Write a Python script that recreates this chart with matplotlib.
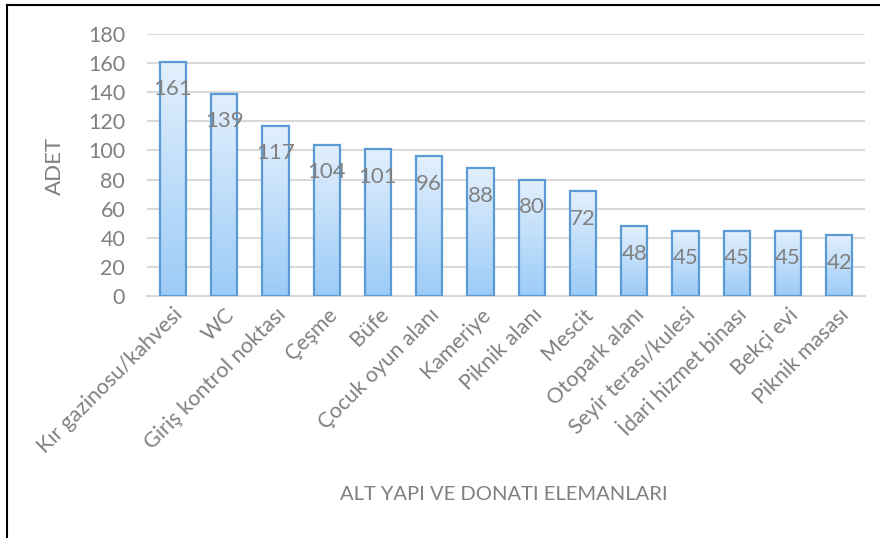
import matplotlib
matplotlib.use("Agg")
import matplotlib.pyplot as plt
import numpy as np
from matplotlib.colors import LinearSegmentedColormap
from matplotlib.lines import Line2D

categories = ["Kır gazinosu/kahvesi", "WC", "Giriş kontrol noktası", "Çeşme", "Büfe",
              "Çocuk oyun alanı", "Kameriye", "Piknik alanı", "Mescit", "Otopark alanı",
              "Seyir terası/kulesi", "İdari hizmet binası", "Bekçi evi", "Piknik masası"]
values = [161, 139, 117, 104, 101, 96, 88, 80, 72, 48, 45, 45, 45, 42]
yticks = [0, 20, 40, 60, 80, 100, 120, 140, 160, 180]

plt.rcParams['font.family'] = ['Lato', 'DejaVu Sans']
gray = '#808080'

fig = plt.figure(figsize=(8.8, 5.38), dpi=100)
ax = fig.add_axes([147.4/880, (538-296)/538, 717.4/880, 262/538])

x = np.arange(len(categories))
bars = ax.bar(x, values, width=0.51, facecolor='none', edgecolor='#5b9bd5',
              linewidth=1.6, zorder=3)

cmap = LinearSegmentedColormap.from_list('g', ['#9ccbf7', '#e3f0fd'])
grad = np.linspace(0, 1, 256).reshape(-1, 1)
for b in bars:
    x0 = b.get_x(); w = b.get_width(); h = b.get_height()
    im = ax.imshow(grad, cmap=cmap, origin='lower', aspect='auto',
                   extent=[x0, x0 + w, 0, h], zorder=2)
    im.set_clip_path(b)

for xi, v in zip(x, values):
    ax.annotate(str(v), (xi, v), xytext=(0, -20), textcoords='offset points',
                ha='center', va='center', fontsize=16, color=gray, zorder=4)

ax.set_xlim(-0.5, len(categories) - 0.5)
ax.set_ylim(0, 180)
ax.set_yticks(yticks)
ax.grid(axis='y', color='#d9d9d9', linewidth=1.5, zorder=0)
ax.set_axisbelow(True)
for s in ['top', 'right', 'left']:
    ax.spines[s].set_visible(False)
ax.spines['bottom'].set_color('#d9d9d9')
ax.spines['bottom'].set_linewidth(1.5)
ax.tick_params(axis='both', length=0, labelsize=15.5, labelcolor=gray)
ax.tick_params(axis='y', pad=16)
ax.set_xticks(x)
ax.set_xticklabels(categories, rotation=45, ha='right', rotation_mode='anchor')
ax.tick_params(axis='x', pad=6)

fig.text(55/880, 1 - 166/538, 'ADET', rotation=90, ha='center', va='center',
         fontsize=16, color=gray)
fig.text(504/880, 1 - 495/538, 'ALT YAPI VE DONATI ELEMANLARI', ha='center',
         va='center', fontsize=14.5, color=gray)

# frame lines (top and left)
fig.add_artist(Line2D([7/880, 1], [1 - 5/538, 1 - 5/538], color='black', linewidth=1.5,
                      transform=fig.transFigure))
fig.add_artist(Line2D([7/880, 7/880], [0, 1 - 5/538], color='black', linewidth=1.5,
                      transform=fig.transFigure))

fig.savefig('out.png', dpi=100)
